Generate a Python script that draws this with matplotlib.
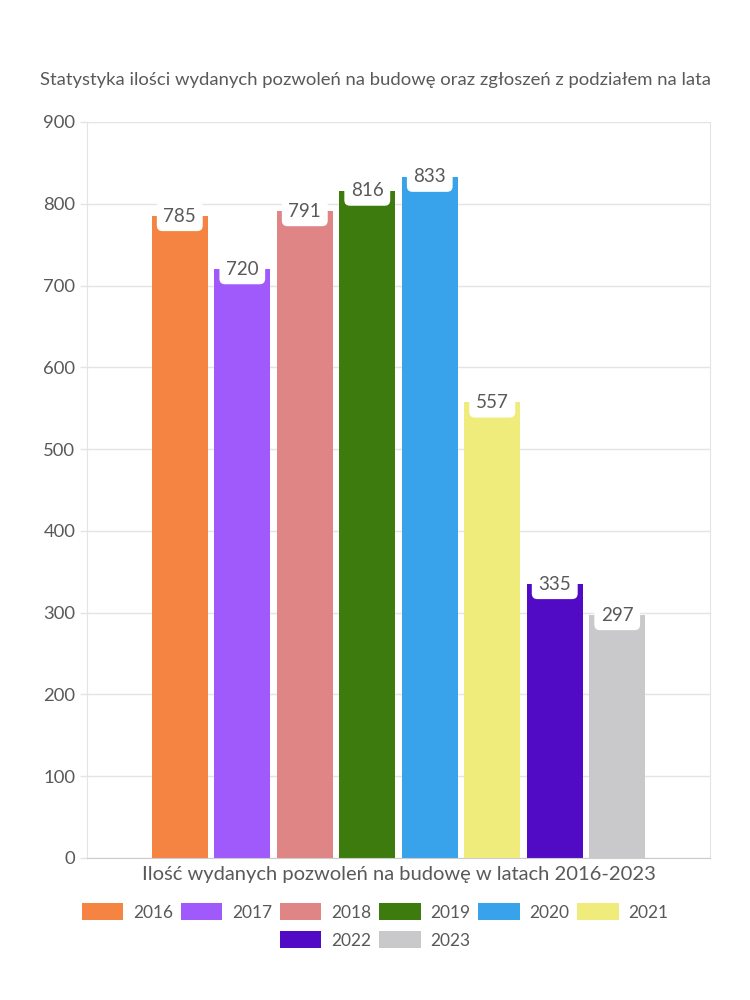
import matplotlib.pyplot as plt

years = ["2016", "2017", "2018", "2019", "2020", "2021", "2022", "2023"]
values = [785, 720, 791, 816, 833, 557, 335, 297]
colors = ["#f58442", "#a05afc", "#e08585", "#3e7b0e", "#38a2ea",
          "#f0ec7c", "#520bc4", "#c9c9cc"]
yticks = [0, 100, 200, 300, 400, 500, 600, 700, 800, 900]

title = "Statystyka ilości wydanych pozwoleń na budowę oraz zgłoszeń z podziałem na lata"
xlabel = "Ilość wydanych pozwoleń na budowę w latach 2016-2023"

plt.rcParams['font.family'] = ['Lato', 'DejaVu Sans']
txt = "#595959"
grid = "#e4e4e4"

fig = plt.figure(figsize=(7.5, 10), dpi=100)
ax = fig.add_axes([0.116, 0.142, 0.8307, 0.736])

handles = []
for i, (y, v, c) in enumerate(zip(years, values, colors)):
    b = ax.bar(i, v, width=0.9, color=c, label=y, zorder=2)
    handles.append(b)
    ax.text(i, v, str(v), ha="center", va="center", fontsize=13.5, color=txt,
            zorder=3,
            bbox=dict(boxstyle="round,pad=0.35,rounding_size=0.3", fc="white", ec="none"))

ax.set_xlim(-1.485, 8.485)
ax.set_ylim(0, 900)
ax.set_yticks(yticks)
ax.set_xticks([])
ax.tick_params(axis="y", colors=grid, labelcolor=txt, labelsize=13.3, length=5, width=1)
ax.yaxis.grid(True, color=grid, lw=1, zorder=0)
ax.set_axisbelow(True)
for s in ["left", "right", "bottom", "top"]:
    ax.spines[s].set_color(grid)
ax.spines["bottom"].set_color("#cccccc")
ax.spines["top"].set_visible(False)

ax.set_xlabel(xlabel, fontsize=14.5, color=txt, labelpad=6)
fig.text(0.5, 0.92, title, ha="center", va="center", fontsize=13.3, color=txt)

# legend: 6 items on the first row, the rest centred below
rows = [handles[:6], handles[6:]]
ys = [0.088, 0.060]
for row, yy in zip(rows, ys):
    leg = fig.legend(handles=row, loc="center", bbox_to_anchor=(0.5, yy),
                     ncol=len(row), frameon=False, fontsize=12.5,
                     handlelength=2.4, handleheight=1.1,
                     columnspacing=0.45, handletextpad=0.55, borderpad=0)
    for t in leg.get_texts():
        t.set_color(txt)

plt.savefig("out.png", dpi=100)
